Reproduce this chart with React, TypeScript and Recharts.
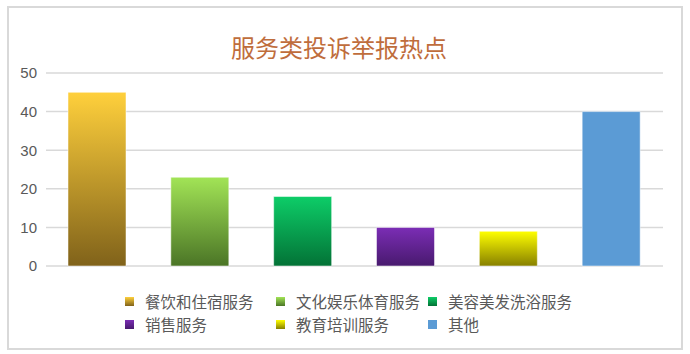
import React from "react";
import { BarChart, Bar, XAxis, YAxis, CartesianGrid, Cell } from "recharts";

const categories = ["餐饮和住宿服务", "文化娱乐体育服务", "美容美发洗浴服务", "销售服务", "教育培训服务", "其他"];
const values = [45, 23, 18, 10, 9, 40];
const yTicks = [0, 10, 20, 30, 40, 50];
const topColors = ["#FFD03C", "#A2E456", "#0DCD68", "#7B2DB5", "#FFFF00", "#5B9BD5"];
const bottomColors = ["#80621A", "#4B7526", "#037236", "#481A6E", "#878000", "#5B9BD5"];
const title = "服务类投诉举报热点";

const data = categories.map((name, i) => ({ name, value: values[i] }));

const textColor = "#595959";
const cjk = '"Noto Sans CJK SC", "Liberation Sans", sans-serif';

export default function App() {
  return (
    <div style={{ position: "absolute", left: 0, top: 0, width: 690, height: 354, background: "#fff" }}>
      <div
        style={{
          position: "absolute",
          left: 7,
          top: 6,
          width: 672,
          height: 340,
          border: "2px solid #d9d9d9",
        }}
      />
      <div
        style={{
          position: "absolute",
          left: 0,
          width: 678,
          top: 32,
          textAlign: "center",
          fontFamily: cjk,
          fontSize: 24,
          lineHeight: "30px",
          color: "#BF6D3C",
        }}
      >
        {title}
      </div>
      <div style={{ position: "absolute", left: 0, top: 0 }}>
        <BarChart
          width={690}
          height={354}
          data={data}
          margin={{ top: 73, right: 27, left: 0, bottom: 88 }}
        >
          <defs>
            {categories.map((c, i) => (
              <linearGradient key={c} id={`g${i}`} x1="0" y1="0" x2="0" y2="1">
                <stop offset="0%" stopColor={topColors[i]} />
                <stop offset="100%" stopColor={bottomColors[i]} />
              </linearGradient>
            ))}
          </defs>
          <CartesianGrid vertical={false} stroke="#d9d9d9" strokeWidth={1.5} />
          <XAxis dataKey="name" hide />
          <YAxis
            width={46}
            domain={[0, 50]}
            ticks={yTicks}
            axisLine={false}
            tickLine={false}
            tickMargin={3}
            tick={{ fill: textColor, fontSize: 15, fontFamily: '"Liberation Sans", sans-serif' }}
          />
          <Bar dataKey="value" barSize={58} isAnimationActive={false} stroke="rgba(255,255,255,0.5)" strokeWidth={1}>
            {data.map((d, i) => (
              <Cell key={d.name} fill={`url(#g${i})`} />
            ))}
          </Bar>
        </BarChart>
      </div>
      {categories.map((c, i) => {
        const col = i % 3;
        const row = Math.floor(i / 3);
        const left = [125, 276, 428][col];
        const top = [292, 315][row];
        return (
          <div
            key={c}
            style={{
              position: "absolute",
              left,
              top,
              display: "flex",
              alignItems: "center",
              fontFamily: cjk,
              fontSize: 15.5,
              lineHeight: "18px",
              color: textColor,
              whiteSpace: "nowrap",
            }}
          >
            <span
              style={{
                display: "inline-block",
                width: 9,
                height: 9,
                background: `linear-gradient(${topColors[i]}, ${bottomColors[i]})`,
                marginRight: 11,
              }}
            />
            {c}
          </div>
        );
      })}
    </div>
  );
}
